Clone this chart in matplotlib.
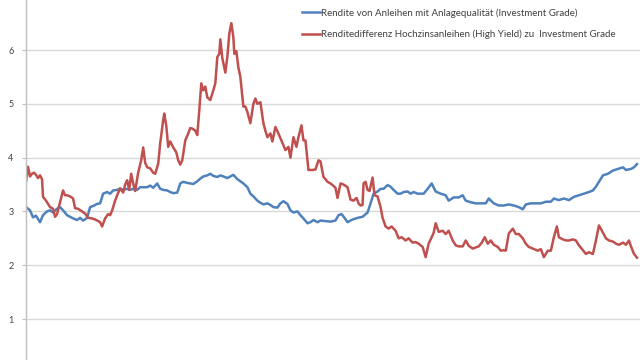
import matplotlib
matplotlib.use("Agg")
import matplotlib.pyplot as plt
from matplotlib.ticker import FixedLocator

plt.rcParams['font.family'] = ['Lato', 'DejaVu Sans']

# period index (weeks, arbitrary origin) and values in percent
t_red = [26, 28, 30, 32, 34, 36, 38, 40, 42, 43, 46, 50, 53, 55, 57, 60, 63, 65, 67, 70,
         73, 75, 78, 82, 85, 88, 92, 95, 98, 100, 102, 105, 108, 110, 112, 115, 117, 120, 123, 125,
         127, 129, 131, 133, 135, 138, 141, 143, 145, 147, 150, 153, 155, 158, 160, 163, 164, 166, 168, 170,
         173, 176, 178, 180, 182, 185, 188, 190, 192, 195, 197, 199, 201, 203, 205, 207, 210, 213, 215, 217,
         219, 220, 222, 225, 227, 229, 231, 233, 234, 236, 238, 240, 242, 243, 245, 247, 250, 253, 255, 257,
         260, 263, 265, 267, 270, 272, 275, 278, 282, 285, 288, 290, 293, 296, 298, 301, 303, 305, 308, 312,
         315, 318, 320, 323, 325, 327, 330, 332, 335, 337, 340, 343, 347, 350, 353, 356, 358, 360, 362, 363,
         365, 367, 369, 372, 374, 377, 380, 382, 385, 388, 391, 395, 398, 401, 405, 408, 412, 415, 418, 422,
         425, 428, 431, 433, 435, 438, 442, 445, 448, 452, 455, 458, 462, 465, 468, 472, 475, 478, 481, 484,
         487, 490, 493, 497, 500, 503, 505, 508, 512, 515, 518, 522, 525, 528, 533, 537, 540, 543, 547, 550,
         553, 556, 558, 562, 565, 568, 572, 575, 578, 582, 585, 588, 592, 595, 598, 601, 605, 608, 612, 615,
         618, 622, 625, 628, 630, 633, 636]
red = [3.55, 3.83, 3.65, 3.70, 3.72, 3.68, 3.62, 3.67, 3.60, 3.27, 3.20, 3.08, 3.05, 2.90, 2.95, 3.17, 3.39, 3.30, 3.30, 3.28,
       3.24, 3.06, 3.05, 3.00, 2.96, 2.88, 2.87, 2.85, 2.82, 2.80, 2.72, 2.87, 2.95, 2.93, 3.02, 3.20, 3.30, 3.43, 3.35, 3.50,
       3.58, 3.40, 3.70, 3.52, 3.38, 3.72, 3.95, 4.19, 3.90, 3.82, 3.80, 3.72, 3.70, 3.89, 4.27, 4.70, 4.82, 4.60, 4.20, 4.30,
       4.19, 4.10, 3.95, 3.87, 3.95, 4.32, 4.45, 4.55, 4.54, 4.50, 4.42, 4.88, 5.38, 5.25, 5.32, 5.12, 5.07, 5.25, 5.38, 5.87,
       5.93, 6.20, 5.85, 5.58, 5.87, 6.31, 6.50, 6.24, 5.93, 5.98, 5.68, 5.50, 5.12, 4.95, 4.95, 4.85, 4.64, 5.00, 5.10, 5.00,
       5.03, 4.64, 4.50, 4.38, 4.45, 4.30, 4.57, 4.45, 4.27, 4.14, 4.20, 4.00, 4.38, 4.20, 4.38, 4.60, 4.32, 4.32, 3.77, 3.77,
       3.78, 3.95, 3.93, 3.64, 3.60, 3.55, 3.52, 3.49, 3.44, 3.25, 3.52, 3.50, 3.45, 3.22, 3.20, 3.25, 3.15, 3.11, 3.12, 3.52,
       3.55, 3.40, 3.38, 3.63, 3.30, 3.28, 3.08, 2.88, 2.72, 2.68, 2.72, 2.64, 2.50, 2.52, 2.46, 2.50, 2.42, 2.43, 2.40, 2.34,
       2.15, 2.40, 2.52, 2.60, 2.78, 2.62, 2.64, 2.58, 2.64, 2.46, 2.37, 2.35, 2.35, 2.46, 2.36, 2.31, 2.33, 2.35, 2.42, 2.52,
       2.40, 2.46, 2.38, 2.34, 2.27, 2.28, 2.27, 2.59, 2.68, 2.58, 2.58, 2.50, 2.40, 2.34, 2.30, 2.27, 2.30, 2.15, 2.27, 2.27,
       2.52, 2.72, 2.52, 2.48, 2.46, 2.46, 2.48, 2.46, 2.37, 2.28, 2.21, 2.24, 2.21, 2.46, 2.74, 2.64, 2.50, 2.46, 2.44, 2.40,
       2.38, 2.42, 2.38, 2.46, 2.35, 2.21, 2.14]

t_blue = [26, 28, 30, 33, 36, 38, 40, 43, 47, 50, 53, 57, 60, 63, 67, 70, 73, 77, 80, 83,
          87, 90, 93, 97, 100, 103, 107, 110, 113, 117, 120, 123, 127, 130, 133, 137, 140, 147, 150, 153,
          157, 160, 163, 167, 170, 173, 177, 180, 183, 187, 190, 193, 197, 200, 203, 207, 210, 213, 217, 220,
          223, 227, 230, 233, 237, 240, 243, 247, 250, 253, 257, 260, 263, 267, 270, 273, 277, 280, 283, 287,
          290, 293, 297, 300, 303, 307, 310, 313, 317, 320, 325, 330, 335, 338, 341, 344, 347, 352, 357, 362,
          367, 370, 373, 377, 380, 383, 387, 390, 393, 397, 400, 403, 407, 410, 413, 417, 420, 423, 427, 431,
          435, 440, 445, 448, 453, 458, 462, 465, 470, 475, 480, 485, 488, 493, 498, 503, 508, 513, 518, 522,
          525, 530, 535, 540, 545, 550, 553, 558, 563, 568, 573, 578, 583, 588, 592, 595, 598, 602, 607, 612,
          617, 622, 625, 630, 633, 636]
blue = [3.08, 3.05, 3.02, 2.89, 2.92, 2.86, 2.80, 2.93, 3.00, 3.02, 2.98, 3.05, 3.08, 3.02, 2.93, 2.90, 2.87, 2.84, 2.88, 2.83,
        2.88, 3.08, 3.10, 3.14, 3.15, 3.33, 3.36, 3.33, 3.39, 3.40, 3.42, 3.40, 3.42, 3.40, 3.42, 3.40, 3.45, 3.45, 3.48, 3.44,
        3.52, 3.42, 3.40, 3.39, 3.36, 3.34, 3.35, 3.52, 3.55, 3.53, 3.52, 3.51, 3.56, 3.61, 3.65, 3.67, 3.70, 3.66, 3.64, 3.67,
        3.65, 3.62, 3.65, 3.68, 3.60, 3.56, 3.52, 3.45, 3.33, 3.28, 3.20, 3.16, 3.13, 3.15, 3.12, 3.08, 3.07, 3.15, 3.19, 3.14,
        3.02, 2.98, 3.00, 2.93, 2.87, 2.78, 2.80, 2.84, 2.80, 2.83, 2.82, 2.81, 2.83, 2.93, 2.95, 2.88, 2.80, 2.85, 2.88, 2.90,
        2.98, 3.15, 3.33, 3.37, 3.42, 3.42, 3.49, 3.46, 3.40, 3.33, 3.33, 3.36, 3.37, 3.33, 3.36, 3.33, 3.33, 3.33, 3.42, 3.52,
        3.37, 3.33, 3.30, 3.20, 3.26, 3.26, 3.30, 3.20, 3.17, 3.15, 3.15, 3.15, 3.24, 3.15, 3.11, 3.11, 3.13, 3.11, 3.08, 3.04,
        3.13, 3.15, 3.15, 3.15, 3.18, 3.18, 3.24, 3.21, 3.24, 3.21, 3.27, 3.30, 3.33, 3.36, 3.39, 3.46, 3.55, 3.67, 3.70, 3.76,
        3.79, 3.82, 3.77, 3.79, 3.82, 3.88]

label_blue = "Rendite von Anleihen mit Anlagequalität (Investment Grade)"
label_red = "Renditedifferenz Hochzinsanleihen (High Yield) zu  Investment Grade"
yticks = [1, 2, 3, 4, 5, 6]

BLUE = "#4F81BD"
RED = "#C0504D"

fig = plt.figure(figsize=(6.4, 3.6), dpi=100)
ax = fig.add_axes([26 / 640, 0, 1 - 26 / 640, 1])
ax.plot(t_blue, blue, color=BLUE, lw=1.8, label=label_blue, solid_joinstyle='round')
ax.plot(t_red, red, color=RED, lw=1.8, label=label_red, solid_joinstyle='round')

ax.set_xlim(26, 639)
ax.set_ylim(0.238, 6.93)
ax.yaxis.set_major_locator(FixedLocator(yticks))
ax.set_yticklabels([str(v) for v in yticks])
ax.set_xticks([])
ax.grid(axis='y', color='#d9d9d9', lw=1.0)
ax.set_axisbelow(True)
for s in ['top', 'right', 'bottom']:
    ax.spines[s].set_visible(False)
ax.spines['left'].set_color('#bfbfbf')
ax.spines['left'].set_linewidth(1.0)
ax.tick_params(axis='y', length=3, width=0.8, color='#bfbfbf', pad=6,
               labelsize=6.5, labelcolor='#404040')

leg = ax.legend(loc='upper left', bbox_to_anchor=(302 / 640, 1 - 8 / 360),
                bbox_transform=fig.transFigure, frameon=False, fontsize=7,
                handlelength=1.85, handletextpad=0.12, labelspacing=1.25,
                borderpad=0, borderaxespad=0)
for txt in leg.get_texts():
    txt.set_color('#404040')

fig.savefig("out.png", dpi=100)
